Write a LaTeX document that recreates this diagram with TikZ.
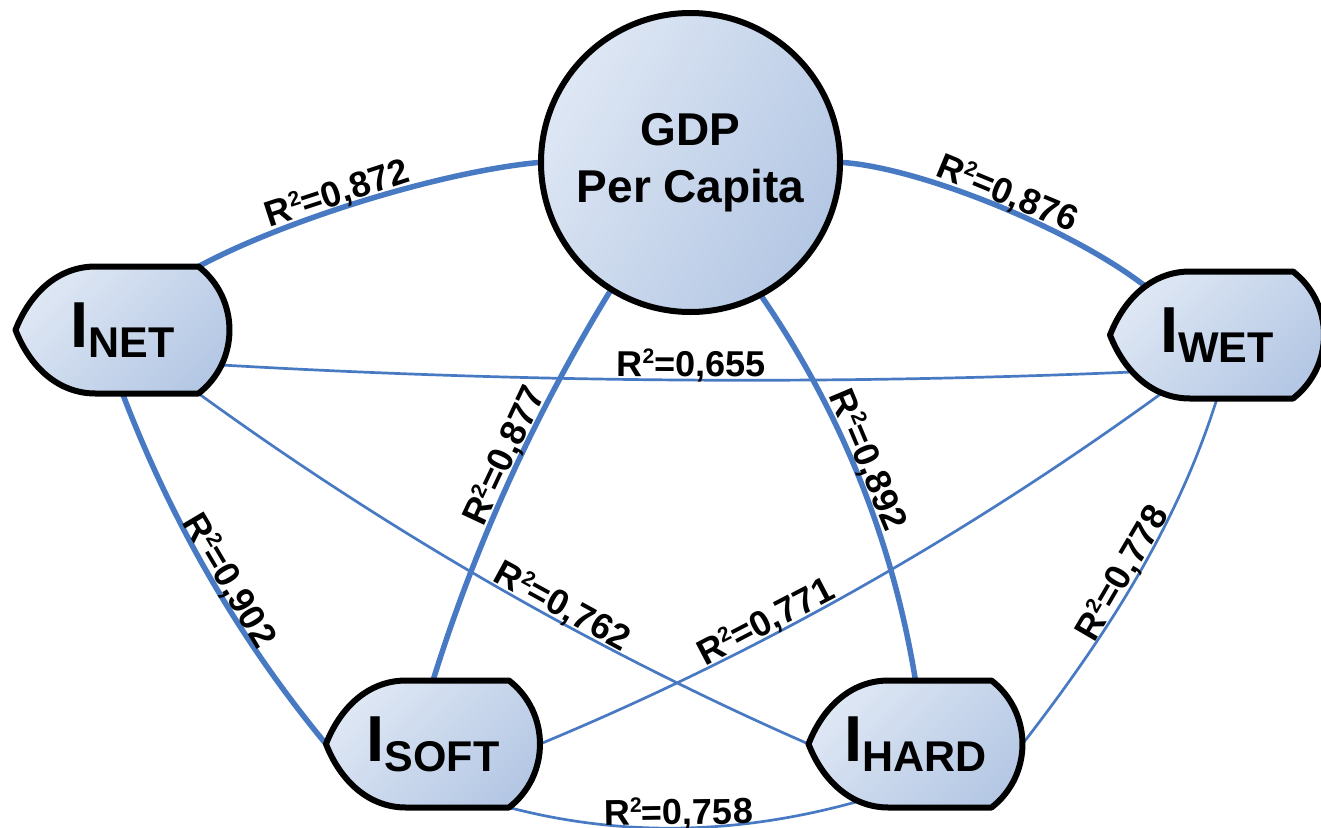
\documentclass[tikz,border=0pt]{standalone}
\usepackage{fontspec}
\setmainfont{Liberation Sans}
\usetikzlibrary{calc}
\pgfdeclarelayer{bg}
\pgfsetlayers{bg,main}
\definecolor{edgeblue}{RGB}{72,122,196}
\definecolor{fillA}{RGB}{222,231,244}
\definecolor{fillB}{RGB}{180,199,228}
\newcommand\Rsq[1]{R\raisebox{12.5pt}{\fontsize{21}{21}\selectfont 2}=#1}
\newcommand\Iname[1]{{\fontsize{65}{65}\selectfont I}\raisebox{-10pt}{\fontsize{43}{43}\selectfont #1}}
\newcommand\DispShape[1]{\path[dispbody, shift={(#1)}] (-107,0) .. controls (-93,-36) and (-65,-63.5) .. (-27,-63.5) -- (76,-63.5) .. controls (117.3,-31.3) and (117.3,31.3) .. (76,63.5) -- (-27,63.5) .. controls (-65,63.5) and (-93,36) .. cycle;}
\begin{document}
\begin{tikzpicture}[x=1pt,y=-1pt,
 dispbody/.style={draw=black, line width=6pt, line join=round, top color=fillA, bottom color=fillB, shading angle=45},
 disptext/.style={inner sep=0pt, font=\bfseries},
 gdpnode/.style={circle, draw=black, line width=6pt, minimum size=299pt, inner sep=0pt, top color=fillA, bottom color=fillB, shading angle=60, align=center, font=\bfseries\fontsize{46}{57}\selectfont},
 thickedge/.style={draw=edgeblue, line width=5.5pt},
 thinedge/.style={draw=edgeblue, line width=2.7pt},
 lbl/.style={sloped, above=-2pt, inner sep=0pt, outer sep=0pt, font=\bfseries\fontsize{36}{36}\selectfont, text=black}]
\useasboundingbox (0,0) rectangle (1321,827);

\coordinate (netc) at (122.5,330);
\coordinate (wetc) at (1217,335);
\coordinate (softc) at (433,744);
\coordinate (hardc) at (915.5,744);

\node[gdpnode] (gdp) at (690.5,162.5) {GDP\\Per Capita};

\DispShape{netc}
\node[disptext] (net) at (netc) {\Iname{NET}};
\DispShape{wetc}
\node[disptext] (wet) at (wetc) {\Iname{WET}};
\DispShape{softc}
\node[disptext] (soft) at (softc) {\Iname{SOFT}};
\DispShape{hardc}
\node[disptext] (hard) at (hardc) {\Iname{HARD}};

\begin{pgfonlayer}{bg}
\path[thickedge] ($(net)+(76,-63.5)$) .. controls +(86.5,-46.5) and +(-98,9.5) .. (gdp.180) node[lbl,pos=0.44]{\Rsq{0,872}};
\path[thickedge] (gdp.0) .. controls +(77,5.5) and +(-75,-58) .. ($(wet)+(-72,-49)$) node[lbl,pos=0.52]{\Rsq{0,876}};
\path[thinedge] ($(net)+(99,35)$) .. controls +(303.5,17.6) and +(-302,13) .. ($(wet)+(-85,37)$) node[lbl,pos=0.515]{\Rsq{0,655}};
\path[thickedge] (gdp.238) .. controls +(-75.4,123.2) and +(42.3,-135.8) .. ($(soft)+(0,-63.5)$) node[lbl,pos=0.45]{\Rsq{0,877}};
\path[thickedge] (gdp.298) .. controls +(80.4,117.4) and +(-22.4,-137.9) .. ($(hard)+(0,-63.5)$) node[lbl,pos=0.46]{\Rsq{0,892}};
\path[thickedge] ($(net)+(0,63.5)$) .. controls +(49.3,128.9) and +(-86.8,-105) .. ($(soft)+(-107,0)$) node[lbl,pos=0.53]{\Rsq{0,902}};
\path[thinedge] ($(net)+(76,63.5)$) .. controls +(190.9,138.6) and +(-216.5,-94.9) .. ($(hard)+(-107,0)$) node[lbl,pos=0.6]{\Rsq{0,762}};
\path[thinedge] ($(wet)+(-55,58)$) .. controls +(-195.6,141.9) and +(220.4,-91.5) .. ($(soft)+(107,0)$) node[lbl,pos=0.64]{\Rsq{0,771}};
\path[thinedge] ($(wet)+(0,63.5)$) .. controls +(-40.7,130) and +(81.2,-105) .. ($(hard)+(107,0)$) node[lbl,pos=0.5]{\Rsq{0,778}};
\path[thinedge] ($(soft)+(76,63.5)$) .. controls +(114.7,29.8) and +(-120.2,33.7) .. ($(hard)+(-56,57)$) node[lbl,pos=0.49]{\Rsq{0,758}};
\end{pgfonlayer}
\end{tikzpicture}
\end{document}
